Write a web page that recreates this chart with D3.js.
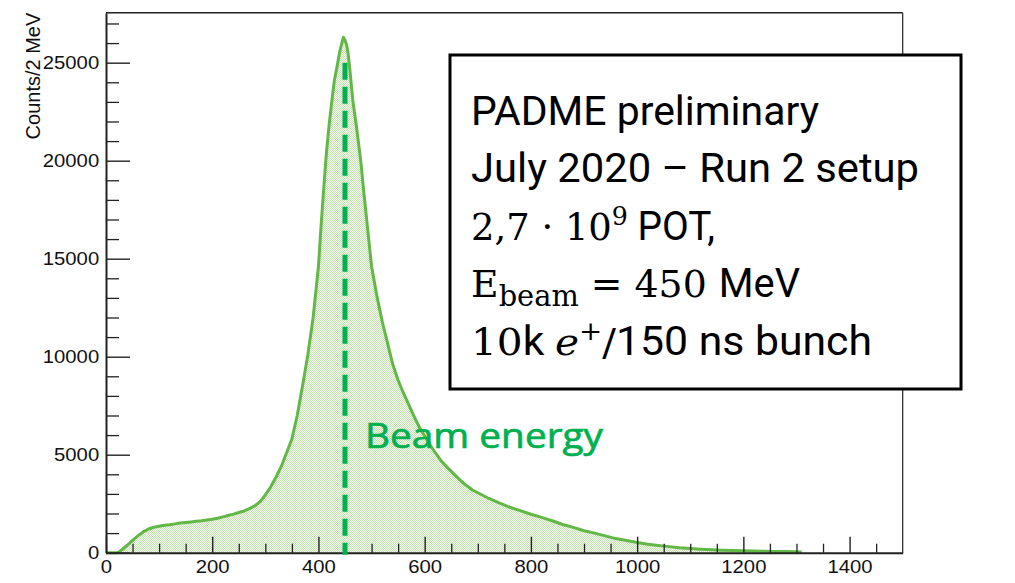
<!DOCTYPE html>
<html>
<head>
<meta charset="utf-8">
<script src="https://cdn.jsdelivr.net/npm/d3@7"></script>
<style>
  html, body { margin: 0; padding: 0; background: #fff; }
  svg { display: block; }
</style>
</head>
<body>
<svg id="chart" width="1015" height="583"></svg>
<script>
// Reconstructed energy spectrum (bin centre in MeV, counts per 2 MeV)
const energy = [0, 20, 24, 30, 40, 50, 60, 70, 80, 90, 100, 110, 120, 130, 140, 150, 160, 170, 180, 190,
  200, 210, 220, 230, 240, 250, 260, 270, 280, 290, 300, 310, 320, 330, 340, 350, 360, 370, 380, 390,
  400, 405, 410, 415, 420, 425, 430, 435, 440, 444, 447, 450, 453, 456, 460, 465, 470, 475, 480, 485,
  490, 495, 500, 510, 520, 530, 540, 550, 560, 570, 580, 590, 600, 610, 620, 630, 640, 650, 660, 670,
  680, 690, 700, 720, 740, 760, 780, 800, 820, 840, 860, 880, 900, 920, 940, 960, 980, 1000, 1020, 1040,
  1060, 1080, 1100, 1120, 1140, 1160, 1180, 1200, 1220, 1240, 1260, 1280, 1300, 1310];
const counts = [0, 0, 30, 150, 380, 630, 860, 1060, 1210, 1300, 1350, 1400, 1430, 1470, 1510, 1540, 1570, 1600, 1630, 1670,
  1710, 1760, 1830, 1900, 1970, 2050, 2130, 2250, 2390, 2600, 2950, 3350, 3850, 4400, 5100, 5800, 7000, 8500, 10100, 12000,
  14600, 16700, 18600, 20400, 21800, 23000, 24100, 24800, 25550, 26000, 26300, 26150, 25900, 25450, 24400, 23000, 22050, 21000, 19900, 18500,
  17200, 15900, 14600, 13100, 11800, 10700, 9600, 8800, 8150, 7550, 6950, 6400, 5950, 5500, 5100, 4720, 4420, 4150, 3880, 3620,
  3400, 3200, 3060, 2780, 2540, 2320, 2150, 1960, 1800, 1630, 1440, 1290, 1120, 1000, 860, 720, 620, 520, 430, 370,
  310, 250, 215, 180, 150, 130, 110, 95, 85, 75, 65, 55, 45, 40];

const xMajorTicks = [0, 200, 400, 600, 800, 1000, 1200, 1400];
const yMajorTicks = [0, 5000, 10000, 15000, 20000, 25000];
const beamEnergy = 450;
const beamLineTop = 25000;

const xDomain = [0, 1500];
const yDomain = [0, 27550];

const svg = d3.select("#chart");
const plotLeft = 106, plotRight = 902.7, plotTop = 12.7, plotBottom = 552.7;

const x = d3.scaleLinear().domain(xDomain).range([plotLeft, plotRight]);
const y = d3.scaleLinear().domain(yDomain).range([plotBottom, plotTop]);

const points = energy.map((e, i) => [e, counts[i]]);
const plain = d3.format("d");

// stipple fill used for the histogram body
const defs = svg.append("defs");
const pat = defs.append("pattern").attr("id", "stipple")
  .attr("patternUnits", "userSpaceOnUse").attr("width", 2).attr("height", 2);
pat.append("rect").attr("width", 2).attr("height", 2).attr("fill", "#f4faf0");
pat.append("rect").attr("width", 1).attr("height", 1).attr("fill", "#c4e1b0");
pat.append("rect").attr("x", 1).attr("y", 1).attr("width", 1).attr("height", 1).attr("fill", "#c4e1b0");

// histogram area and outline
svg.append("path").datum(points)
  .attr("fill", "url(#stipple)")
  .attr("d", d3.area().x(d => x(d[0])).y0(y(0)).y1(d => y(d[1])));

svg.append("path").datum(points)
  .attr("fill", "none")
  .attr("stroke", "#62b846")
  .attr("stroke-width", 3)
  .attr("stroke-linejoin", "round")
  .attr("d", d3.line().x(d => x(d[0])).y(d => y(d[1])));

// frame: top and right edges
svg.append("line").attr("x1", plotLeft).attr("x2", plotRight).attr("y1", plotTop).attr("y2", plotTop)
  .attr("stroke", "#222").attr("stroke-width", 1.4);
svg.append("line").attr("x1", plotRight).attr("x2", plotRight).attr("y1", plotTop).attr("y2", plotBottom)
  .attr("stroke", "#222").attr("stroke-width", 1.2);

const tickFont = "'Liberation Sans', Arial, Helvetica, sans-serif";

// y axis: minor ticks every 1000, major every 5000
const yMinor = d3.range(0, 27001, 1000).filter(v => v % 5000 !== 0);
svg.append("g").attr("transform", `translate(${plotLeft},0)`)
  .call(d3.axisLeft(y).tickValues(yMinor).tickSize(-13).tickFormat(""))
  .call(g => g.select(".domain").remove())
  .selectAll("line").attr("stroke", "#222").attr("stroke-width", 1.3);

const yAxis = svg.append("g").attr("transform", `translate(${plotLeft},0)`)
  .call(d3.axisLeft(y).tickValues(yMajorTicks).tickFormat(plain)
    .tickSize(-24).tickSizeOuter(0).tickPadding(6));
yAxis.select(".domain").attr("stroke", "#222").attr("stroke-width", 2);
yAxis.selectAll("line").attr("stroke", "#222").attr("stroke-width", 1.4);
yAxis.selectAll("text")
  .attr("font-family", tickFont).attr("font-size", 17.8).attr("fill", "#111")
  .attr("transform", "scale(1.14,1)");

// x axis: minor ticks every 50, major every 200
const xMinor = d3.range(0, 1451, 50).filter(v => v % 200 !== 0);
svg.append("g").attr("transform", `translate(0,${plotBottom})`)
  .call(d3.axisBottom(x).tickValues(xMinor).tickSize(-9).tickFormat(""))
  .call(g => g.select(".domain").remove())
  .selectAll("line").attr("stroke", "#222").attr("stroke-width", 1.3);

const xAxis = svg.append("g").attr("transform", `translate(0,${plotBottom})`)
  .call(d3.axisBottom(x).tickValues(xMajorTicks).tickFormat(plain)
    .tickSize(-16).tickSizeOuter(0).tickPadding(8));
xAxis.select(".domain").attr("stroke", "#222").attr("stroke-width", 2);
xAxis.selectAll("line").attr("stroke", "#222").attr("stroke-width", 1.4);
xAxis.selectAll("text")
  .attr("font-family", tickFont).attr("font-size", 17.8).attr("fill", "#111")
  .attr("transform", "scale(1.14,1)");

// y axis title
svg.append("text")
  .attr("transform", `translate(40,${plotTop}) rotate(-90)`)
  .attr("text-anchor", "end")
  .attr("font-family", tickFont).attr("font-size", 20).attr("fill", "#111")
  .text("Counts/2 MeV");

// beam energy marker
svg.append("line")
  .attr("x1", x(beamEnergy)).attr("x2", x(beamEnergy))
  .attr("y1", y(beamLineTop)).attr("y2", y(0) + 2)
  .attr("stroke", "#00b050").attr("stroke-width", 5)
  .attr("stroke-dasharray", "17,7");

svg.append("text")
  .attr("x", 365).attr("y", 448)
  .attr("font-family", "'Open Sans', Lato, sans-serif").attr("font-size", 35)
  .attr("fill", "#00b050").attr("stroke", "#00b050").attr("stroke-width", 0.7)
  .attr("textLength", 238).attr("lengthAdjust", "spacingAndGlyphs")
  .text("Beam energy");

// info box
svg.append("rect")
  .attr("x", 450).attr("y", 55).attr("width", 511).attr("height", 334)
  .attr("fill", "#fff").attr("stroke", "#000").attr("stroke-width", 3);

const sans = "Roboto, 'Open Sans', sans-serif";
const serif = "'DejaVu Serif', 'Liberation Serif', serif";
const boxX = 471;

function boxLine(yBase, width, parts) {
  const t = svg.append("text").attr("x", boxX).attr("y", yBase)
    .attr("fill", "#000").attr("font-size", 40)
    .attr("textLength", width).attr("lengthAdjust", "spacingAndGlyphs");
  parts.forEach(p => {
    const s = t.append("tspan").attr("font-family", p.serif ? serif : sans).text(p.t);
    if (p.size) s.attr("font-size", p.size);
    if (p.dy) s.attr("dy", p.dy);
    if (p.italic) s.attr("font-style", "italic");
  });
  return t;
}

boxLine(125, 348, [{ t: "PADME preliminary" }]);
boxLine(182, 448, [{ t: "July 2020 \u2013 Run 2 setup" }]);
boxLine(240, 244, [
  { t: "2,7 \u00b7 10", serif: true, size: 38 },
  { t: "9", serif: true, size: 26, dy: -15 },
  { t: " POT,", dy: 15 }
]);
boxLine(297, 329, [
  { t: "E", serif: true, size: 38 },
  { t: "beam", serif: true, size: 29, dy: 9 },
  { t: " = 450 ", serif: true, size: 38, dy: -9 },
  { t: "MeV" }
]);
boxLine(355, 401, [
  { t: "10", serif: true, size: 38 },
  { t: "k " },
  { t: "e", serif: true, size: 38, italic: true },
  { t: "+", serif: true, size: 26, dy: -15 },
  { t: "/", serif: true, size: 38, dy: 15 },
  { t: "150 ns bunch" }
]);
</script>
</body>
</html>
